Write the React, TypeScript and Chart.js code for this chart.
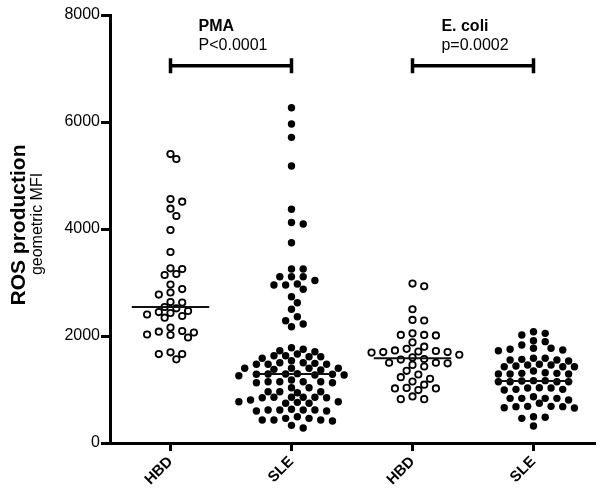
import React, { useEffect, useRef } from "react";
import { Chart, registerables } from "chart.js";

Chart.register(...registerables);

// ---------- data ----------
const categories = ["HBD", "SLE", "HBD", "SLE"];

const hbdPma = [
  5401, 5308, 4560, 4510, 4379, 4243, 3981, 3570, 3265, 3252, 3159, 3140, 2962,
  2878, 2813, 2775, 2635, 2626, 2542, 2518, 2467, 2448, 2430, 2402, 2374, 2342,
  2159, 2093, 2080, 2065, 2028, 2019, 1972, 1695, 1663, 1663, 1564,
];

const slePma = [
  6267, 5962, 5713, 5177, 4368, 4121, 4093, 3744, 3252, 3252, 3108, 3108, 3108,
  3037, 2972, 2953, 2953, 2873, 2734, 2622, 2499, 2361, 2286, 2224, 2174,
  1781, 1751, 1725, 1706,
  1663, 1632, 1632, 1613, 1613, 1583,
  1538, 1501, 1501, 1489, 1471, 1471, 1471,
  1396, 1396, 1396, 1396, 1377, 1364,
  1296, 1290, 1290, 1284, 1284, 1271, 1271, 1258,
  1177, 1146, 1146, 1146, 1146, 1127, 1127,
  1034, 1034, 959, 959, 959, 940,
  854, 854, 854, 854, 847, 847, 804,
  772, 772, 760, 742, 742,
  630, 617, 617, 617, 617, 598, 598,
  492, 461, 461, 430, 430, 430, 411,
  330, 280,
];

const hbdEcoli = [
  2980, 2930, 2500, 2300, 2290, 2050, 2020, 2020, 2010, 1880, 1800, 1760, 1730,
  1720, 1710, 1700, 1700, 1690, 1650, 1600, 1570, 1560, 1500, 1500, 1490, 1460,
  1430, 1350, 1280, 1230, 1200, 1150, 1090, 1030, 1020, 1020, 990, 870, 820, 820,
];

const sleEcoli = [
  2080, 2050, 2019, 1912, 1894, 1832, 1770, 1770, 1751, 1738, 1725, 1583, 1583,
  1564, 1551, 1551, 1533, 1471, 1458, 1458, 1439, 1426, 1426, 1426, 1346, 1314,
  1302, 1302, 1290, 1290, 1290, 1165, 1165, 1159, 1146, 1146, 1146, 1146, 1034,
  1028, 1028, 1003, 1003, 991, 865, 835, 835, 835, 835, 804, 742, 685, 685, 679,
  679, 660, 654, 492, 480, 461, 318,
];

const groups = [hbdPma, slePma, hbdEcoli, sleEcoli];
const filledGroup = [false, true, false, true];
const medians = [2540, 1290, 1585, 1160];

const yMin = 0;
const yMax = 8000;
const yStep = 2000;

const comparisons = [
  { title: "PMA", p: "P<0.0001", from: 1, to: 2 },
  { title: "E. coli", p: "p=0.0002", from: 3, to: 4 },
];
const bracketY = 7050;

const yTitle = "ROS production";
const ySubTitle = "geometric MFI";

// ---------- helpers ----------
const FONT = 'Arial, "Liberation Sans", Helvetica, sans-serif';

// Beeswarm layout computed from the values (pixel-ish units for spacing)
function swarm(values: number[], center: number) {
  const pxPerX = 121;
  const pxPerY = 428 / (yMax - yMin);
  const step = 5.85;
  const minD = 7.4;
  const placed: { px: number; py: number }[] = [];
  const out: { x: number; y: number }[] = [];
  const sorted = [...values].sort((a, b) => b - a);
  for (const v of sorted) {
    const py = v * pxPerY;
    let chosen = 0;
    for (let k = 0; k < 60; k++) {
      const off = k === 0 ? 0 : (k % 2 === 1 ? 1 : -1) * Math.ceil(k / 2) * step;
      const ok = placed.every(
        (p) => (p.px - off) * (p.px - off) + (p.py - py) * (p.py - py) >= minD * minD
      );
      if (ok) {
        chosen = off;
        break;
      }
    }
    placed.push({ px: chosen, py });
    out.push({ x: center + chosen / pxPerX, y: v });
  }
  return out;
}

const annotationPlugin = {
  id: "annotations",
  afterDraw(chart: any) {
    const ctx = chart.ctx;
    const xs = chart.scales.x;
    const ys = chart.scales.y;
    ctx.save();
    ctx.strokeStyle = "#000";
    ctx.fillStyle = "#000";
    ctx.lineWidth = 3.5;
    const by = ys.getPixelForValue(bracketY);
    comparisons.forEach((c) => {
      const x1 = xs.getPixelForValue(c.from);
      const x2 = xs.getPixelForValue(c.to);
      ctx.beginPath();
      ctx.moveTo(x1, by);
      ctx.lineTo(x2, by);
      ctx.moveTo(x1, by - 7.5);
      ctx.lineTo(x1, by + 7.5);
      ctx.moveTo(x2, by - 7.5);
      ctx.lineTo(x2, by + 7.5);
      ctx.stroke();
      ctx.font = `16px ${FONT}`;
      const w = ctx.measureText(c.p).width;
      const left = (x1 + x2) / 2 - w / 2 + 2;
      ctx.textAlign = "left";
      ctx.textBaseline = "alphabetic";
      ctx.fillText(c.p, left, by - 16);
      ctx.font = `bold 16px ${FONT}`;
      ctx.fillText(c.title, left, by - 35);
    });

    // y titles
    const cy = 225;
    ctx.save();
    ctx.translate(25, cy);
    ctx.rotate(-Math.PI / 2);
    ctx.textAlign = "center";
    ctx.textBaseline = "alphabetic";
    ctx.font = `bold 21px ${FONT}`;
    ctx.fillText(yTitle, 0, 0);
    ctx.restore();
    ctx.save();
    ctx.translate(42, cy - 1);
    ctx.rotate(-Math.PI / 2);
    ctx.textAlign = "center";
    ctx.textBaseline = "alphabetic";
    ctx.font = `16px ${FONT}`;
    ctx.fillText(ySubTitle, 0, 0);
    ctx.restore();
    ctx.restore();
  },
};

export default function App() {
  const ref = useRef<HTMLCanvasElement | null>(null);

  useEffect(() => {
    if (!ref.current) return;
    const datasets: any[] = [];
    groups.forEach((vals, i) => {
      const filled = filledGroup[i];
      datasets.push({
        label: categories[i],
        data: swarm(vals, i + 1),
        pointStyle: "circle",
        pointRadius: filled ? 3.7 : 3.2,
        pointHoverRadius: filled ? 3.7 : 3.2,
        backgroundColor: filled ? "#000" : "#fff",
        borderColor: "#000",
        borderWidth: filled ? 0 : 1.8,
        order: 2,
      });
      datasets.push({
        label: categories[i] + " median",
        data: [
          { x: i + 1 - 0.32, y: medians[i] },
          { x: i + 1 + 0.32, y: medians[i] },
        ],
        showLine: true,
        pointRadius: 0,
        borderColor: "#111",
        borderWidth: 2,
        order: 1,
      });
    });

    const chart = new Chart(ref.current, {
      type: "scatter",
      data: { datasets },
      options: {
        animation: false,
        responsive: false,
        devicePixelRatio: 1,
        layout: { padding: { top: 15, right: 6, bottom: 0, left: 0 } },
        plugins: { legend: { display: false }, tooltip: { enabled: false } },
        scales: {
          x: {
            type: "linear",
            min: 0.5,
            max: 4.5,
            afterBuildTicks: (scale: any) => {
              scale.ticks = categories.map((_, i) => ({ value: i + 1 }));
            },
            afterFit: (scale: any) => {
              scale.height = 52;
            },
            grid: {
              display: true,
              drawOnChartArea: false,
              drawTicks: true,
              tickLength: 8,
              lineWidth: 3,
              color: "#000",
            },
            border: { display: true, width: 3, color: "#000" },
            ticks: {
              autoSkip: false,
              minRotation: 45,
              maxRotation: 45,
              padding: 2,
              color: "#000",
              font: { family: FONT, size: 15, weight: "bold" },
              callback: (v: any) => categories[Math.round(Number(v)) - 1] ?? "",
            },
          },
          y: {
            type: "linear",
            min: yMin,
            max: yMax,
            afterFit: (scale: any) => {
              scale.width = 110;
            },
            grid: {
              display: true,
              drawOnChartArea: false,
              drawTicks: true,
              tickLength: 9,
              lineWidth: 3,
              color: "#000",
            },
            border: { display: true, width: 3, color: "#000" },
            ticks: {
              stepSize: yStep,
              padding: 1,
              color: "#000",
              font: { family: FONT, size: 16 },
              callback: (v: any) => String(v),
            },
          },
        },
      },
      plugins: [annotationPlugin],
    } as any);
    return () => chart.destroy();
  }, []);

  return (
    <div style={{ position: "absolute", left: 0, top: 0, width: 600, height: 495, background: "#fff" }}>
      <canvas ref={ref} width={600} height={495} style={{ width: 600, height: 495, display: "block" }} />
    </div>
  );
}
